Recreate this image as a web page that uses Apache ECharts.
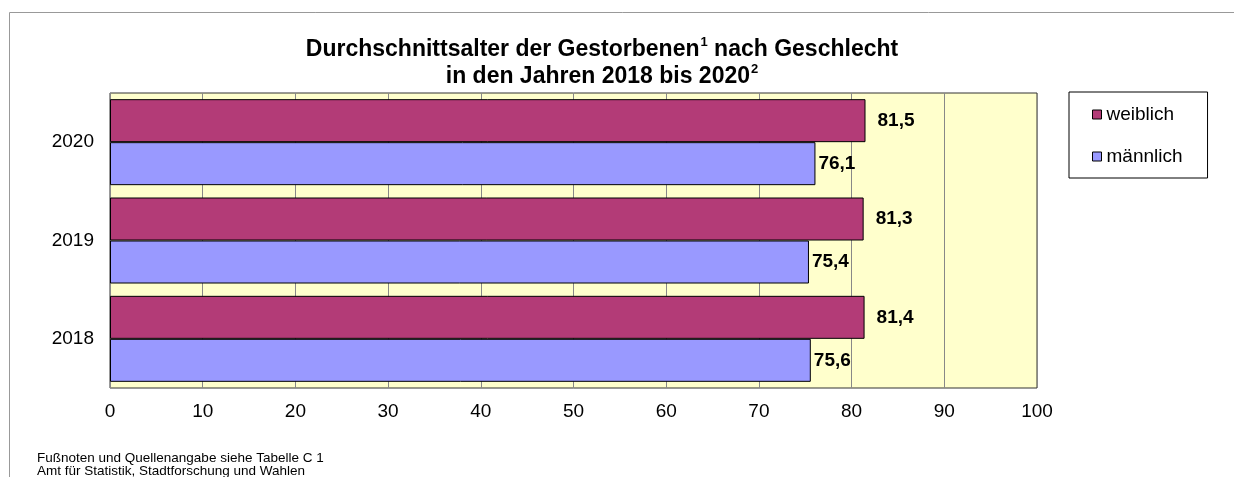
<!DOCTYPE html>
<html lang="de">
<head>
<meta charset="utf-8">
<title>Durchschnittsalter der Gestorbenen</title>
<script src="https://cdn.jsdelivr.net/npm/echarts@6/dist/echarts.min.js"></script>
<style>
  html, body { margin: 0; padding: 0; background: #fff; }
  #chart { width: 1234px; height: 477px; }
</style>
</head>
<body>
<div id="chart"></div>
<script>
var years = ['2018', '2019', '2020'];
var weiblich = [81.4, 81.3, 81.5];
var maennlich = [75.6, 75.4, 76.1];
var xTicks = [0, 10, 20, 30, 40, 50, 60, 70, 80, 90, 100];

var font = 'Liberation Sans, Arial, sans-serif';

function komma(p) {
    return String(p.value.toFixed(1)).replace('.', ',');
}

var chart = echarts.init(document.getElementById('chart'));
chart.setOption({
    animation: false,
    textStyle: { fontFamily: font },
    title: {
        text: '{t|Durchschnittsalter der Gestorbenen}{s|1}{t| nach Geschlecht}\n{t|in den Jahren 2018 bis 2020}{s|2}',
        left: 597,
        top: 31,
        textAlign: 'center',
        textStyle: {
            rich: {
                t: { fontFamily: font, fontSize: 23, fontWeight: 'bold', color: '#000', lineHeight: 27 },
                s: { fontFamily: font, fontSize: 13, fontWeight: 'bold', color: '#000', verticalAlign: 'top', lineHeight: 27, padding: [0, 0, 8, 1] }
            }
        }
    },
    legend: {
        orient: 'vertical',
        left: 1069,
        top: 92,
        data: ['weiblich', 'männlich'],
        icon: 'rect',
        itemWidth: 9,
        itemHeight: 9,
        itemGap: 23,
        padding: [13, 25, 12, 23],
        borderColor: '#000',
        borderWidth: 1,
        backgroundColor: '#fff',
        textStyle: { fontFamily: font, fontSize: 19, color: '#000' },
        itemStyle: { borderColor: '#000', borderWidth: 1 }
    },
    grid: {
        left: 110,
        top: 93,
        width: 927,
        height: 295,
        show: true,
        backgroundColor: '#FFFFCC',
        borderColor: '#333',
        borderWidth: 1,
        containLabel: false
    },
    xAxis: {
        type: 'value',
        min: xTicks[0],
        max: xTicks[xTicks.length - 1],
        interval: 10,
        axisLine: { show: false },
        axisTick: { show: false },
        axisLabel: { fontFamily: font, fontSize: 19, color: '#000', margin: 14 },
        splitLine: { show: true, lineStyle: { color: '#888', width: 1 } }
    },
    yAxis: {
        type: 'category',
        data: years,
        axisLine: { show: false },
        axisTick: { show: false },
        axisLabel: { fontFamily: font, fontSize: 19, color: '#000', margin: 16 },
        splitLine: { show: false }
    },
    series: [
        {
            name: 'weiblich',
            type: 'bar',
            data: weiblich,
            barWidth: 43,
            barGap: '0%',
            itemStyle: { color: '#B33B77', borderColor: '#000', borderWidth: 1 },
            label: {
                show: true,
                position: 'right',
                distance: 12,
                formatter: komma,
                fontFamily: font,
                fontSize: 19,
                fontWeight: 'bold',
                color: '#000'
            }
        },
        {
            name: 'männlich',
            type: 'bar',
            data: maennlich,
            barWidth: 43,
            barGap: '0%',
            itemStyle: { color: '#9999FF', borderColor: '#000', borderWidth: 1 },
            label: {
                show: true,
                position: 'right',
                distance: 3,
                formatter: komma,
                fontFamily: font,
                fontSize: 19,
                fontWeight: 'bold',
                color: '#000'
            }
        }
    ],
    graphic: [
        {
            type: 'rect',
            shape: { x: 9.5, y: 12.5, width: 1400, height: 600 },
            style: { fill: 'none', stroke: '#999', lineWidth: 1 },
            silent: true,
            z: -10
        },
        {
            type: 'text',
            left: 37,
            top: 451,
            style: {
                text: 'Fußnoten und Quellenangabe siehe Tabelle C 1\nAmt für Statistik, Stadtforschung und Wahlen',
                fontFamily: font,
                fontSize: 13.5,
                lineHeight: 13,
                fill: '#000'
            }
        }
    ]
});
</script>
</body>
</html>
